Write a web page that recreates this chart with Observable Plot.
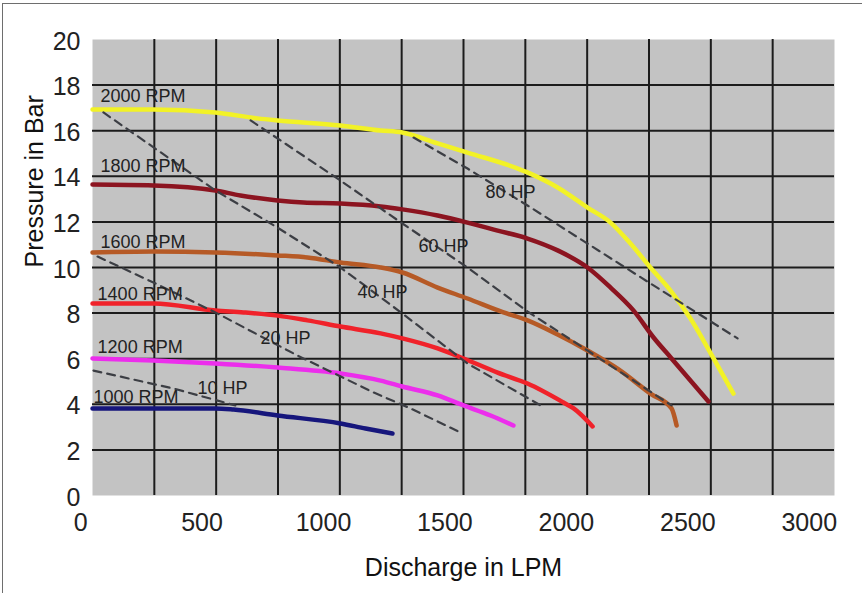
<!DOCTYPE html>
<html><head><meta charset="utf-8">
<script src="https://cdn.jsdelivr.net/npm/d3@7"></script>
<script src="https://cdn.jsdelivr.net/npm/@observablehq/plot@0.6"></script>
<style>
html,body{margin:0;padding:0;background:#fff;}
#wrap{position:relative;width:862px;height:593px;overflow:hidden;}
#border{position:absolute;left:2px;top:3px;width:1000px;height:1000px;border:1.5px solid #6e6e6e;pointer-events:none;}
</style></head><body>
<div id="wrap"><div id="chart"></div><div id="border"></div></div>
<script>
// Tick labels
const xTicks = [0, 500, 1000, 1500, 2000, 2500, 3000];
const yTicks = [0, 2, 4, 6, 8, 10, 12, 14, 16, 18, 20];

// Pump curves (discharge LPM, pressure bar)
const rpmNames = ["1000 RPM", "1200 RPM", "1400 RPM", "1600 RPM", "1800 RPM", "2000 RPM"];
const q1000 = [49, 300, 555, 630, 811, 1070, 1173, 1284];
const p1000 = [3.82, 3.82, 3.82, 3.77, 3.51, 3.16, 2.94, 2.72];
const q1200 = [49, 300, 555, 811, 1070, 1235, 1325, 1470, 1577, 1688, 1782];
const p1200 = [6.01, 5.92, 5.79, 5.61, 5.35, 5.04, 4.78, 4.39, 3.95, 3.51, 3.07];
const q1400 = [49, 300, 555, 671, 811, 934, 1070, 1235, 1325, 1470, 1577, 1717, 1840, 1988, 2030, 2108];
const p1400 = [8.42, 8.42, 8.11, 8.03, 7.89, 7.68, 7.41, 7.11, 6.89, 6.45, 6.01, 5.39, 4.91, 4.08, 3.82, 3.03];
const q1600 = [49, 300, 555, 811, 934, 1070, 1235, 1325, 1470, 1593, 1741, 1840, 1964, 2087, 2215, 2346, 2433, 2454];
const p1600 = [10.66, 10.70, 10.66, 10.53, 10.44, 10.22, 10.00, 9.78, 9.12, 8.64, 8.03, 7.68, 7.06, 6.36, 5.53, 4.47, 3.82, 3.07];
const q1800 = [49, 300, 555, 658, 811, 918, 1070, 1235, 1325, 1470, 1593, 1717, 1840, 1964, 2087, 2182, 2277, 2359, 2433, 2585];
const p1800 = [13.64, 13.60, 13.38, 13.16, 12.94, 12.85, 12.81, 12.68, 12.55, 12.28, 11.97, 11.62, 11.27, 10.75, 10.00, 9.12, 8.11, 6.93, 6.01, 4.12];
const q2000 = [49, 300, 555, 728, 811, 1070, 1235, 1325, 1470, 1593, 1840, 1964, 2087, 2182, 2264, 2346, 2429, 2511, 2606, 2688];
const p2000 = [16.93, 16.93, 16.80, 16.54, 16.45, 16.23, 16.01, 15.92, 15.44, 15.04, 14.17, 13.51, 12.63, 11.97, 11.05, 10.00, 8.99, 7.76, 6.01, 4.47];

// Power lines
const hpNames = ["10 HP", "20 HP", "40 HP", "60 HP", "80 HP"];
const hp10Q = [53, 383, 637];
const hp10P = [5.48, 4.69, 3.95];
const hp20Q = [70, 300, 555, 893, 1206, 1358, 1573];
const hp20P = [10.48, 9.34, 8.03, 6.14, 4.52, 3.82, 2.72];
const hp40Q = [94, 555, 811, 1070, 1325, 1593, 1894];
const hp40P = [16.80, 13.38, 11.75, 10.00, 7.98, 5.79, 3.95];
const hp60Q = [700, 1058, 1325, 1593, 1840, 2087, 2433];
const hp60P = [16.45, 13.90, 11.93, 10.00, 8.07, 6.36, 3.95];
const hp80Q = [1371, 1593, 1840, 2087, 2346, 2705];
const hp80P = [15.70, 14.34, 12.72, 11.05, 9.30, 6.89];

// Label anchors (data coordinates)
const rpmLabelQ = [53, 70, 70, 82, 82, 82];
const rpmLabelP = [4.30, 6.49, 8.82, 11.10, 14.43, 17.50];
const hpLabelQ = [481, 741, 1140, 1391, 1667];
const hpLabelP = [4.69, 6.89, 8.90, 10.92, 13.29];

// Styles
const rpmColors = ["#16167c", "#ec2eec", "#f0222a", "#b65a26", "#8c1420", "#f2f226"];
const xDomain = [49, 3104];

const rpmQ = [q1000, q1200, q1400, q1600, q1800, q2000];
const rpmP = [p1000, p1200, p1400, p1600, p1800, p2000];
const curveRows = rpmNames.flatMap((name, i) => rpmQ[i].map((q, j) => ({rpm: name, q, p: rpmP[i][j]})));
const hpQ = [hp10Q, hp20Q, hp40Q, hp60Q, hp80Q];
const hpP = [hp10P, hp20P, hp40P, hp60P, hp80P];
const hpRows = hpNames.flatMap((name, i) => hpQ[i].map((q, j) => ({hp: name, q, p: hpP[i][j]})));
const rpmLabelRows = rpmNames.map((name, i) => ({name, q: rpmLabelQ[i], p: rpmLabelP[i]}));
const hpLabelRows = hpNames.map((name, i) => ({name, q: hpLabelQ[i], p: hpLabelP[i]}));

const xGrid = d3.range(1, 12).map(i => xDomain[0] + i * (xDomain[1] - xDomain[0]) / 12);
const yGrid = yTicks.slice(1, -1);

const chart = Plot.plot({
  width: 862,
  height: 593,
  marginLeft: 92,
  marginRight: 28,
  marginTop: 39,
  marginBottom: 98,
  style: {fontFamily: "'Liberation Sans', Arial, sans-serif", background: "white", overflow: "visible"},
  x: {domain: xDomain, axis: null},
  y: {domain: [0, 20], axis: null},
  color: {domain: rpmNames, range: rpmColors},
  marks: [
    Plot.frame({fill: "#c3c3c3", stroke: null}),
    Plot.gridX(xGrid, {stroke: "#1c1c1c", strokeOpacity: 1, strokeWidth: 2}),
    Plot.gridY(yGrid, {stroke: "#1c1c1c", strokeOpacity: 1, strokeWidth: 2}),
    Plot.line(curveRows, {x: "q", y: "p", z: "rpm", stroke: "rpm", strokeWidth: 4.5, curve: "monotone-x"}),
    Plot.line(hpRows, {x: "q", y: "p", z: "hp", stroke: "#3c3e44", strokeWidth: 2.2, strokeDasharray: "8,6"}),
    Plot.text(rpmLabelRows, {x: "q", y: "p", text: "name", textAnchor: "start", lineAnchor: "middle", fontSize: 18, fill: "#222"}),
    Plot.text(hpLabelRows, {x: "q", y: "p", text: "name", textAnchor: "start", lineAnchor: "middle", fontSize: 18, fill: "#222"}),
    Plot.text(yTicks, {y: d => d, text: d => String(d), frameAnchor: "left", textAnchor: "end", dx: -12, dy: 2, lineAnchor: "middle", fontSize: 25, fill: "#222"}),
    Plot.text(xTicks, {x: d => d, text: d => String(d), frameAnchor: "bottom", dy: 27, lineAnchor: "middle", fontSize: 25, fill: "#222"}),
    Plot.text(["Discharge in LPM"], {frameAnchor: "bottom", dy: 72, lineAnchor: "middle", fontSize: 25, fill: "#111"}),
    Plot.text(["Pressure in Bar"], {frameAnchor: "left", dx: -58, rotate: -90, lineAnchor: "middle", fontSize: 25, fill: "#111"})
  ]
});
document.getElementById("chart").appendChild(chart);
</script>
</body></html>
